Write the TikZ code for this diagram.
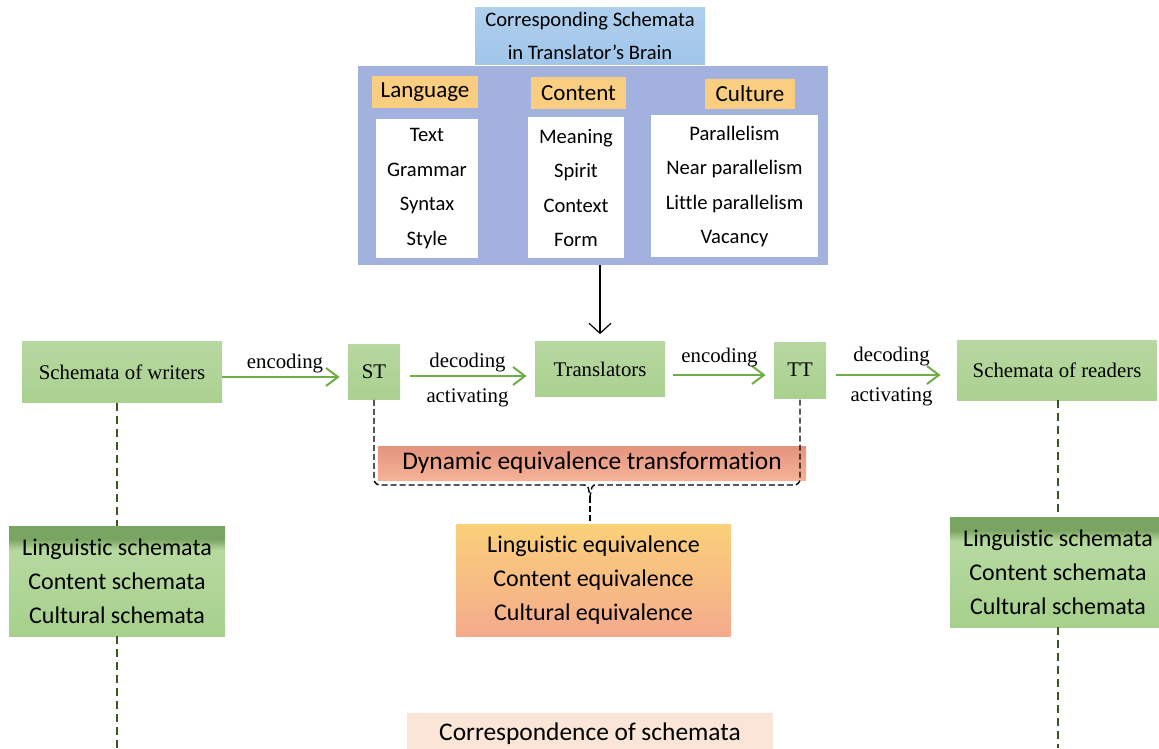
\documentclass[tikz,border=0pt]{standalone}
\usepackage{fontspec}
\setmainfont{Liberation Serif}
\newfontfamily\calfont{Carlito}[Ligatures=NoCommon]
\usetikzlibrary{arrows.meta}
\definecolor{panelblue}{RGB}{162,177,222}
\definecolor{titleblue}{RGB}{160,198,234}
\definecolor{headorange}{RGB}{250,206,128}
\definecolor{boxgreen}{RGB}{170,209,144}
\definecolor{arrowgreen}{RGB}{112,173,71}
\definecolor{lineGreen}{RGB}{56,87,35}
\definecolor{salmon}{RGB}{244,170,140}
\definecolor{dyntop}{RGB}{228,148,126}
\definecolor{peach}{RGB}{251,229,214}
\definecolor{schT}{RGB}{122,164,98}
\definecolor{schM}{RGB}{182,217,160}
\definecolor{schB}{RGB}{166,208,140}
\pgfdeclareverticalshading{schshade}{100bp}{color(0bp)=(schB); color(25bp)=(schB); color(64bp)=(schM); color(69bp)=(schT); color(75bp)=(schT); color(100bp)=(schT)}

\begin{document}
\begin{tikzpicture}[x=0.5pt,y=-0.5pt,
    every node/.style={inner sep=0pt},
    serif/.style={font=\fontsize{10.4}{12}\selectfont},
    gbox/.style={serif,top color=boxgreen!85!white,bottom color=boxgreen},
    head/.style={fill=headorange,font=\calfont\fontsize{11.5}{13}\selectfont},
    wbox/.style={fill=white,align=center,font=\calfont\fontsize{10.3}{17.25}\selectfont},
    sch/.style={shading=schshade,align=center,minimum width=108pt,minimum height=55pt,font=\calfont\fontsize{12}{17}\selectfont},
    garrow/.style={draw=arrowgreen,line width=1pt,-{Straight Barb[length=6pt,width=9pt,line width=1pt]},shorten >=4pt},
    gdash/.style={draw=lineGreen,line width=1.2pt,dash pattern=on 4pt off 2.5pt},
    lbl/.style={serif,midway}]
\clip (0,0) rectangle (1159,748);

\node[top color=titleblue!85!white,bottom color=titleblue,minimum width=115pt,minimum height=28.5pt,align=center,
      font=\calfont\fontsize{10.3}{16.5}\selectfont] (title) at (590,36) {Corresponding Schemata\\in Translator’s Brain};
\node[fill=panelblue,minimum width=235pt,minimum height=99.5pt] (panel) at (593,165.5) {};
\node[head,minimum width=53pt,minimum height=16pt] (hlang) at (425,92) {Language};
\node[head,minimum width=47.5pt,minimum height=16pt] (hcont) at (578.5,93) {Content};
\node[head,minimum width=45pt,minimum height=15pt] (hcult) at (750,94) {Culture};
\node[wbox,minimum width=51pt,minimum height=69.5pt] (wlang) at (427,188.5) {Text\\Grammar\\Syntax\\Style};
\node[wbox,minimum width=48pt,minimum height=70.5pt] (wcont) at (576,188) {Meaning\\Spirit\\Context\\Form};
\node[wbox,minimum width=83.5pt,minimum height=71pt] (wcult) at (734.5,186.5) {Parallelism\\Near parallelism\\Little parallelism\\Vacancy};

\node[gbox,minimum width=100pt,minimum height=30.5pt] (writers) at (122,372) {Schemata of writers};
\node[gbox,minimum width=26pt,minimum height=27.5pt] (st) at (374,372) {ST};
\node[gbox,minimum width=65pt,minimum height=27.5pt] (trans) at (600,369) {Translators};
\node[gbox,minimum width=26pt,minimum height=28pt] (tt) at (800,370) {TT};
\node[gbox,minimum width=100pt,minimum height=30pt] (readers) at (1057,370) {Schemata of readers};

\draw[line width=0.6pt,-{Straight Barb[length=5pt,width=11pt,line width=0.6pt]},shorten >=3.5pt] (trans.north |- panel.south) -- (trans.north);

\draw[garrow] ([yshift=-2.5pt]writers.east) -- ([yshift=-2.5pt]st.west)
    node[lbl,above=1.5pt] {encoding};
\draw[garrow,shorten <=5pt] ([yshift=-2pt]st.east) -- ([yshift=-2pt]st.east -| trans.west)
    node[lbl,above=1.5pt] {decoding} node[lbl,below=6pt] {activating};
\draw[garrow,shorten <=4pt] ([yshift=-3pt]trans.east) -- ([yshift=-3pt]trans.east -| tt.west)
    node[lbl,above=3.5pt] {encoding};
\draw[garrow,shorten <=5pt,shorten >=8pt] ([yshift=-2.5pt]tt.east) -- ([yshift=-2.5pt]tt.east -| readers.west)
    node[lbl,above=4pt] {decoding} node[lbl,below=6pt] {activating};

\node[top color=dyntop,bottom color=salmon!90!white,minimum width=214pt,minimum height=17pt,
      font=\calfont\fontsize{12.7}{15}\selectfont] (dyn) at (592,463) {Dynamic equivalence transformation};
\node[top color=headorange!95!yellow,middle color=salmon!90!white,bottom color=salmon,minimum width=137.5pt,minimum height=56pt,
      align=center,font=\calfont\fontsize{12}{17}\selectfont] (equiv) at (593.5,580) {Linguistic equivalence\\Content equivalence\\Cultural equivalence};
\coordinate (tip) at (590,497);
\draw[line width=0.7pt,dash pattern=on 3pt off 1.5pt] (st.south) -- (374,479) arc[start angle=180,end angle=90,radius=6]
    -- (583,485) .. controls (588,485) .. (tip) .. controls (592,485) .. (597,485) -- (794,485)
    arc[start angle=90,end angle=0,radius=6] -- (tt.south);
\draw[line width=0.7pt,dash pattern=on 3pt off 1.5pt] (tip) -- (tip |- equiv.north);

\node[sch] (lsch) at (117,581) {Linguistic schemata\\Content schemata\\Cultural schemata};
\node[sch] (rsch) at (1058,572) {Linguistic schemata\\Content schemata\\Cultural schemata};
\draw[gdash] (writers.south -| lsch.north) -- (lsch.north);
\draw[gdash] (lsch.south) -- (lsch.south |- 0,748);
\draw[gdash] (readers.south -| rsch.north) -- (rsch.north);
\draw[gdash] (rsch.south) -- (rsch.south |- 0,748);

\node[fill=peach,minimum width=183pt,minimum height=21pt,font=\calfont\fontsize{12.7}{15}\selectfont] (corr) at (590,734) {Correspondence of schemata};
\end{tikzpicture}
\end{document}
